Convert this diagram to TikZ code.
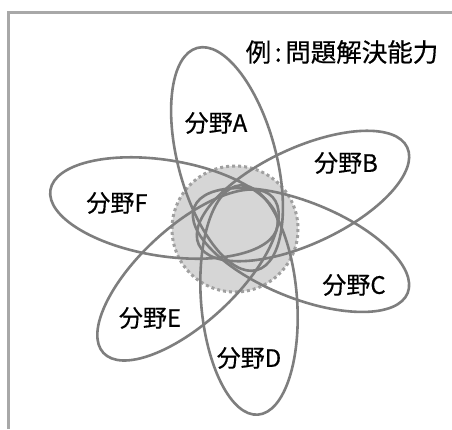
\documentclass[tikz,border=0pt]{standalone}
\usepackage{fontspec}
\newfontfamily\jp[FakeBold=0.4]{Noto Sans CJK JP}
\definecolor{petalgray}{HTML}{7E7E7E}
\definecolor{framegray}{HTML}{A8A8A8}
\definecolor{corefill}{HTML}{D6D6D6}
\definecolor{coreline}{HTML}{A0A0A0}
\begin{document}
\begin{tikzpicture}[x=1pt,y=-1pt,
  petal/.style={draw=petalgray,line width=2.6pt},
  frameline/.style={draw=framegray,line width=3pt},
  core/.style={fill=corefill,draw=coreline,line width=3pt,dash pattern=on 3pt off 3pt},
  lbl/.style={font=\jp\fontsize{24}{28}\selectfont,inner sep=0pt},
  ttl/.style={font=\jp\fontsize{25.5}{30}\selectfont,inner sep=0pt}]
\useasboundingbox (0,0) rectangle (452,429);
\fill[white] (0,0) rectangle (452,429);
\draw[frameline] (8,429) -- (8,12) -- (452,12);
\path[core] (235,229) circle [radius=63];
\draw[petal,rotate around={105:(227,159)}] (227,159) ellipse [x radius=115, y radius=49];
\draw[petal,rotate around={25:(303,196)}] (303,196) ellipse [x radius=115, y radius=48];
\draw[petal,rotate around={-22:(301,250)}] (301,250) ellipse [x radius=115, y radius=48];
\draw[petal,rotate around={-85.5:(249,300)}] (249,300) ellipse [x radius=115, y radius=48];
\draw[petal,rotate around={42.6:(188,275)}] (188,275) ellipse [x radius=115, y radius=48];
\draw[petal,rotate around={-9:(164,208)}] (164,208) ellipse [x radius=115, y radius=48];
\node[ttl] (title) at (342,52) {例\hspace{3.5pt}:\hspace{3.5pt}問題解決能力};
\node[lbl] (la) at (216,123) {分野A};
\node[lbl] (lb) at (346,163) {分野B};
\node[lbl] (lc) at (354,285) {分野C};
\node[lbl] (ld) at (249,358) {分野D};
\node[lbl] (le) at (150,318) {分野E};
\node[lbl] (lf) at (117,203) {分野F};
\end{tikzpicture}
\end{document}
